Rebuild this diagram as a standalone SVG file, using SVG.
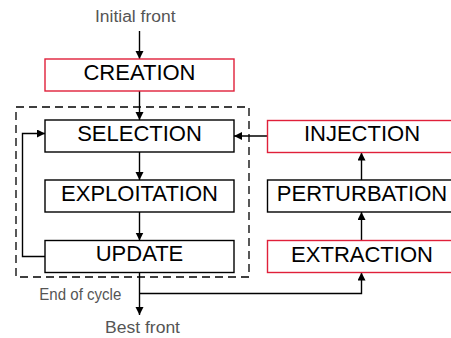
<svg xmlns="http://www.w3.org/2000/svg" width="451" height="338" viewBox="0 0 451 338">
<style>
.box{fill:#fff;stroke:#000;stroke-width:1.4}
.red{stroke:#e0203a}
.lbl{font-family:"Liberation Sans",Arial,sans-serif;font-size:22px;fill:#000;text-anchor:middle}
.sm{font-family:"Liberation Sans",Arial,sans-serif;font-size:16px;fill:#555}
.ln{fill:none;stroke:#000;stroke-width:1.4}
</style>
<defs>
<marker id="ah" markerUnits="userSpaceOnUse" markerWidth="10" markerHeight="10" refX="8" refY="4" orient="auto">
<path d="M0,0 L8,4 L0,8 Z" fill="#000"/>
</marker>
</defs>
<rect x="16" y="107" width="233" height="170" fill="none" stroke="#000" stroke-width="1.3" stroke-dasharray="8,5"/>
<g id="connectors">
<line class="ln" x1="139.5" y1="31" x2="139.5" y2="59" marker-end="url(#ah)"/>
<line class="ln" x1="139.5" y1="91" x2="139.5" y2="120" marker-end="url(#ah)"/>
<line class="ln" x1="139.5" y1="152" x2="139.5" y2="180" marker-end="url(#ah)"/>
<line class="ln" x1="139.5" y1="212" x2="139.5" y2="240.5" marker-end="url(#ah)"/>
<polyline class="ln" points="45,256.5 22.5,256.5 22.5,133.5 45,133.5" marker-end="url(#ah)"/>
<line class="ln" x1="267.5" y1="136" x2="234" y2="136" marker-end="url(#ah)"/>
<line class="ln" x1="361.5" y1="180" x2="361.5" y2="152.5" marker-end="url(#ah)"/>
<line class="ln" x1="361.5" y1="240.5" x2="361.5" y2="212" marker-end="url(#ah)"/>
<line class="ln" x1="139.5" y1="272.5" x2="139.5" y2="315" marker-end="url(#ah)"/>
<polyline class="ln" points="139.5,293.5 361.5,293.5 361.5,272.5" marker-end="url(#ah)"/>
</g>
<g id="creation"><rect class="box red" x="45" y="59" width="189" height="32"/><text class="lbl" x="139.5" y="80">CREATION</text></g>
<g id="selection"><rect class="box" x="45" y="120" width="189" height="32"/><text class="lbl" x="139.5" y="141">SELECTION</text></g>
<g id="exploitation"><rect class="box" x="45" y="180" width="189" height="32"/><text class="lbl" x="139.5" y="201">EXPLOITATION</text></g>
<g id="update"><rect class="box" x="45" y="240.5" width="189" height="32"/><text class="lbl" x="139.5" y="261">UPDATE</text></g>
<g id="injection"><rect class="box red" x="267.5" y="120.5" width="189" height="32"/><text class="lbl" x="362" y="141">INJECTION</text></g>
<g id="perturbation"><rect class="box" x="267.5" y="180" width="189" height="32"/><text class="lbl" x="362" y="201">PERTURBATION</text></g>
<g id="extraction"><rect class="box red" x="267.5" y="240.5" width="189" height="32"/><text class="lbl" x="362" y="261.5">EXTRACTION</text></g>
<text class="sm" x="95" y="22.3" textLength="80.5" lengthAdjust="spacingAndGlyphs">Initial front</text>
<text class="sm" x="39.3" y="300" textLength="82" lengthAdjust="spacingAndGlyphs">End of cycle</text>
<text class="sm" x="105" y="332.7" textLength="75" lengthAdjust="spacingAndGlyphs">Best front</text>
</svg>
